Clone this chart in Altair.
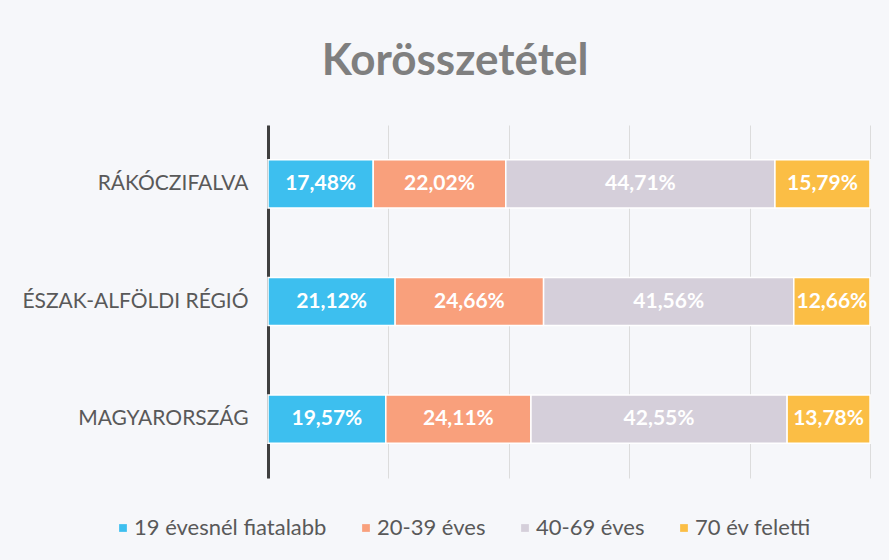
import altair as alt
import pandas as pd

categories = ["RÁKÓCZIFALVA", "ÉSZAK-ALFÖLDI RÉGIÓ", "MAGYARORSZÁG"]
series = ["19 évesnél fiatalabb", "20-39 éves", "40-69 éves", "70 év feletti"]
colors = ["#3DBFEF", "#F9A07C", "#D5CFDA", "#FBBE45"]
young = [17.48, 21.12, 19.57]
adult = [22.02, 24.66, 24.11]
middle = [44.71, 41.56, 42.55]
old = [15.79, 12.66, 13.78]

rows = []
for si, (s, vals) in enumerate(zip(series, [young, adult, middle, old])):
    for c, v in zip(categories, vals):
        rows.append({"cat": c, "series": s, "order": si, "value": v,
                     "label": f"{v:.2f}".replace(".", ",") + "%"})
df = pd.DataFrame(rows)

FONT = "Lato"

base = (
    alt.Chart(df)
    .transform_stack(stack="value", groupby=["cat"], sort=[alt.SortField("order")], as_=["x0", "x1"])
    .transform_calculate(mid="(datum.x0 + datum.x1) / 2")
)

yenc = alt.Y(
    "cat:N", sort=categories, title=None,
    scale=alt.Scale(paddingInner=0.59, paddingOuter=0.295),
    axis=alt.Axis(domainColor="#3f3f3f", domainWidth=3, ticks=False, grid=False, labelLimit=0,
                  labelFont=FONT, labelFontSize=21, labelColor="#595959", labelPadding=20),
)

bars = base.mark_bar(stroke="white", strokeWidth=1.5).encode(
    x=alt.X("x0:Q", scale=alt.Scale(domain=[0, 100], nice=False),
            axis=alt.Axis(grid=True, gridColor="#dcdcdc", gridWidth=1, values=[0, 20, 40, 60, 80, 100],
                          labels=False, ticks=False, domain=False, title=None)),
    x2="x1:Q",
    y=yenc,
    color=alt.Color("series:N", scale=alt.Scale(domain=series, range=colors),
                    legend=alt.Legend(orient="none", legendX=-156, legendY=392, direction="horizontal",
                                      title=None, symbolType="square", symbolSize=60, symbolStrokeWidth=0,
                                      labelFont=FONT, labelFontSize=22, labelColor="#595959", labelLimit=0,
                                      columnPadding=28, labelOffset=0)),
    order=alt.Order("order:Q"),
)

text = base.mark_text(color="white", font=FONT, fontSize=21, fontWeight="bold").encode(
    x=alt.X("mid:Q"),
    y=alt.Y("cat:N", sort=categories),
    text="label:N",
)

chart = (
    alt.layer(bars, text)
    .properties(
        width=602, height=353,
        title=alt.TitleParams("Korösszetétel", font=FONT, fontSize=44, fontWeight="bold",
                              color="#7f7f7f", anchor="middle", dx=-114, offset=6,
                              baseline="alphabetic"),
        autosize=alt.AutoSizeParams(type="none"),
        padding={"left": 268, "top": 125, "right": 19, "bottom": 82},
        background="#f6f7fa",
    )
    .configure_view(stroke=None)
)

chart.save("out.html", embed_options={"renderer": "svg", "actions": False})
